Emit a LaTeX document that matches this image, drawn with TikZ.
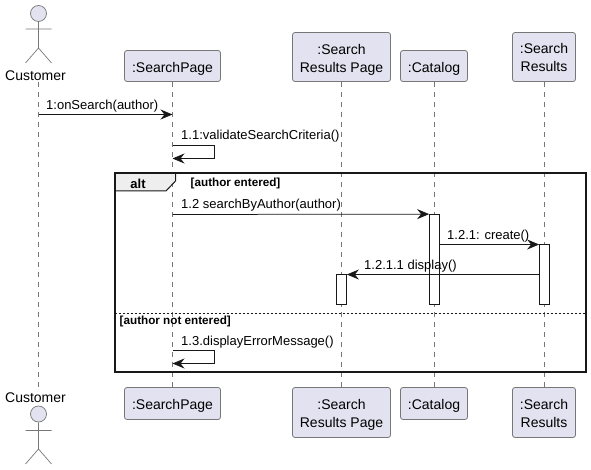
\documentclass[tikz,border=0pt]{standalone}
\usepackage{fontspec}
\setmainfont{Liberation Sans}
\usetikzlibrary{arrows.meta}
\definecolor{boxfill}{HTML}{E2E2F0}
\definecolor{ink}{HTML}{181818}
\definecolor{soft}{HTML}{777777}
\definecolor{tabfill}{HTML}{EEEEEE}
\newcommand\topgap{\rule{0pt}{15pt}}
\newcommand\lowgap{\rule[-3pt]{0pt}{3pt}}
\tikzset{
  x=1pt,y=-1pt,
  party/.style={draw=soft,line width=0.8pt,fill=boxfill,rounded corners=2.5pt,inner sep=0pt,align=center,font=\fontsize{14}{18}\selectfont},
  actorname/.style={inner sep=0pt,font=\fontsize{14}{18}\selectfont,text height=13pt,text depth=2pt},
  lifeline/.style={draw=soft,line width=0.7pt,dash pattern=on 5pt off 5pt},
  actorline/.style={draw=soft,line width=0.7pt},
  actorhead/.style={draw=soft,line width=0.7pt,fill=boxfill,circle,inner sep=0pt,minimum size=16pt},
  msg/.style={draw=ink,line width=0.75pt,-{Stealth[length=12pt,width=10pt,inset=4pt]}},
  msgtext/.style={anchor=west,inner sep=0pt,font=\fontsize{13}{15}\selectfont,text=black},
  guard/.style={anchor=west,inner sep=0pt,font=\bfseries\fontsize{11.7}{13}\selectfont,text=black},
  activation/.style={draw=ink,line width=0.75pt,fill=white,inner sep=0pt,minimum width=10pt},
  frameline/.style={draw=ink,line width=2pt},
}
\begin{document}
\begin{tikzpicture}
\useasboundingbox (0,0) rectangle (591,470);
% participants top
\node[actorhead] (hT) at (38.5,13.5) {};
\node[actorname] (cT) at (35.5,75) {Customer};
\node[party,minimum width=96pt,minimum height=31pt] (sT) at (172.5,66) {\topgap:SearchPage};
\node[party,minimum width=98pt,minimum height=49pt] (rT) at (341.5,57) {\topgap:Search\\Results Page};
\node[party,minimum width=67pt,minimum height=31pt] (gT) at (434,66) {\topgap:Catalog};
\node[party,minimum width=63pt,minimum height=49pt] (eT) at (544,57) {\topgap:Search\\Results\lowgap};
% participants bottom
\node[actorhead] (hB) at (38.5,414) {};
\node[actorname] (cB) at (35.5,397) {Customer};
\node[party,minimum width=96pt,minimum height=32pt] (sB) at (172.5,403.5) {\topgap:SearchPage};
\node[party,minimum width=98pt,minimum height=50pt] (rB) at (341.5,412.5) {\topgap:Search\\Results Page};
\node[party,minimum width=67pt,minimum height=32pt] (gB) at (434,403.5) {\topgap:Catalog};
\node[party,minimum width=63pt,minimum height=50pt] (eB) at (544,412.5) {\topgap:Search\\Results\lowgap};
% lifelines
\draw[lifeline] (hT |- sT.south) -- (hT |- sB.north);
\draw[lifeline] (sT.south) -- (sB.north);
\draw[lifeline] (rT.south) -- (rB.north);
\draw[lifeline] (gT.south) -- (gB.north);
\draw[lifeline] (eT.south) -- (eB.north);
% actors
\draw[actorline] (hT.south) -- (38.5,48) (25.5,29) -- (51.5,29) (25.5,63) -- (38.5,48) -- (51.5,63);
\draw[actorline] (hB.south) -- (38.5,449) (25.5,430.5) -- (51.5,430.5) (25.5,464) -- (38.5,449) -- (51.5,464);
% frame
\draw[fill=tabfill,draw=ink,line width=1pt] (114.5,173.5) -- (175.5,173.5) -- (175.5,181) -- (166,191) -- (114.5,191) -- cycle;
\draw[frameline] (114.5,173.5) rectangle (585.5,371.5);
\draw[draw=ink,line width=0.75pt,dash pattern=on 2pt off 2pt] (114.5,313.5) -- (585.5,313.5);
\node[anchor=center,inner sep=0pt,font=\bfseries\fontsize{13}{15}\selectfont] (alt) at (138,184) {alt};
\node[guard] (g1) at (190.5,183) {[author entered]};
\node[guard] (g2) at (119.5,321) {[author not entered]};
% activations
\node[activation,minimum height=90pt] (aG) at (434.5,259.5) {};
\node[activation,minimum height=60pt] (aE) at (544.5,274.5) {};
\node[activation,minimum height=30pt] (aR) at (341.5,289.5) {};
% message end points
\coordinate (m1a) at (hT |- 0,114.5);
\coordinate (m1b) at (sT.south |- 0,114.5);
\coordinate (m2a) at (sT.south |- 0,145.5);
\coordinate (m2b) at (214.5,145.5);
\coordinate (m2c) at (214.5,158.5);
\coordinate (m2d) at (sT.south |- 0,158.5);
\coordinate (m3a) at (sT.south |- 0,214.5);
\coordinate (m4a) at (aG.east |- 0,244.5);
\coordinate (m4b) at (aE.west |- 0,244.5);
\coordinate (m5a) at (aE.west |- 0,274.5);
\coordinate (m5b) at (aR.east |- 0,274.5);
\coordinate (m6a) at (sT.south |- 0,350.5);
\coordinate (m6b) at (214.5,350.5);
\coordinate (m6c) at (214.5,363.5);
\coordinate (m6d) at (sT.south |- 0,363.5);
% messages
\draw[msg] (m1a) -- (m1b);
\draw[msg] (m2a) -- (m2b) -- (m2c) -- (m2d);
\draw[msg] (m3a) -- (aG.north west);
\draw[msg] (m4a) -- (m4b);
\draw[msg] (m5a) -- (m5b);
\draw[msg] (m6a) -- (m6b) -- (m6c) -- (m6d);
% labels
\node[msgtext] (l1) at (46,106) {1:onSearch(author)};
\node[msgtext] (l2) at (181,136.5) {1.1:validateSearchCriteria()};
\node[msgtext] (l3) at (181,205.5) {1.2 searchByAuthor(author)};
\node[msgtext] (l4) at (447,236) {1.2.1: create()};
\node[msgtext] (l5) at (364,266) {1.2.1.1 display()};
\node[msgtext] (l6) at (181,342) {1.3.displayErrorMessage()};
\end{tikzpicture}
\end{document}
